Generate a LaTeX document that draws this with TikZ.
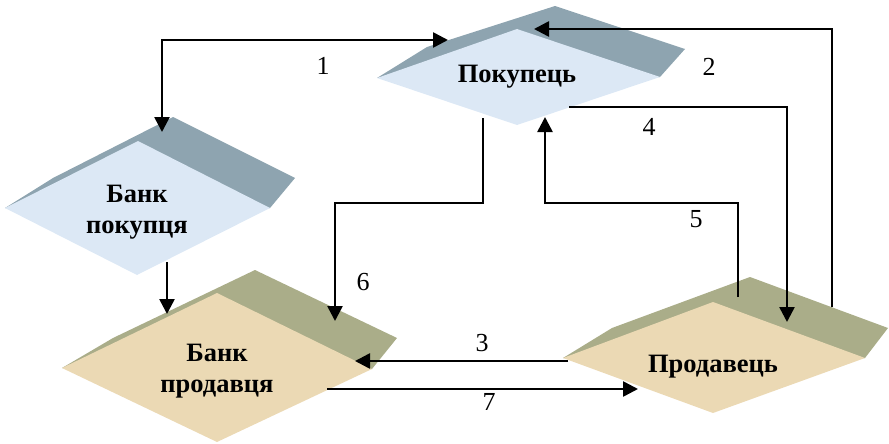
\documentclass[tikz,border=0pt]{standalone}
\usepackage{fontspec}
\setmainfont{Liberation Serif}
\usepackage{xcolor}
\usetikzlibrary{arrows.meta}
\definecolor{buyerfront}{HTML}{DCE8F5}
\definecolor{buyerback}{HTML}{8EA4B0}
\definecolor{sellerfront}{HTML}{EBD9B4}
\definecolor{sellerback}{HTML}{AAAD89}
\tikzset{
  buyerslab/.style={fill=buyerfront},
  buyershade/.style={fill=buyerback},
  sellerslab/.style={fill=sellerfront},
  sellershade/.style={fill=sellerback},
  title/.style={font=\fontsize{26.5}{31}\selectfont\bfseries, align=center, inner sep=0pt},
  num/.style={font=\fontsize{26}{30}\selectfont, inner sep=0pt},
  flow/.style={draw=black, line width=2.6pt, -{Triangle[length=15pt,width=15pt]}},
  twoway/.style={flow, {Triangle[length=15pt,width=15pt]}-{Triangle[length=15pt,width=15pt]}},
}

\begin{document}
\begin{tikzpicture}[x=1pt, y=-1pt]
  \useasboundingbox (0,0) rectangle (889,444);
  % plates: shaded back first, then the front face
  \fill[buyershade] (377,78) -- (427,47) -- (555,6) -- (685,49) -- (660,77) -- cycle;
  \fill[buyerslab] (377,78) -- (517,29) -- (660,77) -- (517,125) -- cycle;
  \fill[buyershade] (5,208) -- (53,178) -- (173,117) -- (295,178) -- (270,208) -- cycle;
  \fill[buyerslab] (5,208) -- (138,141) -- (270,208) -- (137,275) -- cycle;
  \fill[sellershade] (62,368) -- (113,338) -- (255,270) -- (397,338) -- (372,369) -- cycle;
  \fill[sellerslab] (62,368) -- (217,293) -- (372,369) -- (217,442) -- cycle;
  \fill[sellershade] (563,358) -- (612,328) -- (750,277) -- (888,328) -- (865,358) -- cycle;
  \fill[sellerslab] (563,358) -- (713,302) -- (865,358) -- (713,413) -- cycle;

  \node[title] (buyer) at (517,77) {Покупець};
  \node[title] (buyerbank) at (137,212) {Банк\\покупця};
  \node[title] (sellerbank) at (217,371) {Банк\\продавця};
  \node[title] (seller) at (713,367) {Продавець};

  % ends of the connectors
  \coordinate (a1) at (162,132);
  \coordinate (b1) at (448,40);
  \coordinate (a2) at (832,307);
  \coordinate (b2) at (534,29);
  \coordinate (a3) at (568,361);
  \coordinate (b3) at (355,361);
  \coordinate (a4) at (569,107);
  \coordinate (b4) at (787,322);
  \coordinate (a5) at (738,297);
  \coordinate (k5) at (545,203);
  \coordinate (b5) at (545,117);
  \coordinate (a6) at (483,118);
  \coordinate (k6) at (335,203);
  \coordinate (b6) at (335,321);
  \coordinate (a7) at (327,389);
  \coordinate (b7) at (638,389);
  \coordinate (a8) at (167,262);
  \coordinate (b8) at (167,314);

  \draw[twoway] (a1) |- (b1);
  \draw[flow] (a2) |- (b2);
  \draw[flow] (a3) -- (b3);
  \draw[flow] (a4) -| (b4);
  \draw[flow] (a5) |- (k5) -- (b5);
  \draw[flow] (a6) |- (k6) -- (b6);
  \draw[flow] (a7) -- (b7);
  \draw[flow] (a8) -- (b8);

  \node[num] (n1) at (323,66) {1};
  \node[num] (n2) at (709,67) {2};
  \node[num] (n3) at (482,343) {3};
  \node[num] (n4) at (649,127) {4};
  \node[num] (n5) at (696,219) {5};
  \node[num] (n6) at (363,282) {6};
  \node[num] (n7) at (489,402) {7};
\end{tikzpicture}
\end{document}
